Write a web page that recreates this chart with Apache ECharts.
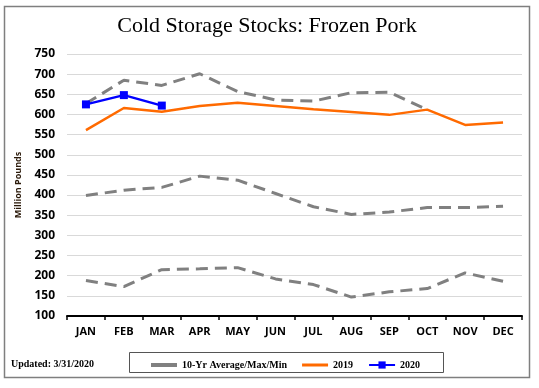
<!DOCTYPE html>
<html><head><meta charset="utf-8">
<script src="https://cdn.jsdelivr.net/npm/echarts@6/dist/echarts.min.js"></script>
<style>html,body{margin:0;padding:0;background:#fff}#c{width:539px;height:388px}</style>
</head><body><div id="c"></div>
<script>
const months = ['JAN','FEB','MAR','APR','MAY','JUN','JUL','AUG','SEP','OCT','NOV','DEC'];
const max10 = [627, 685, 672, 701, 657, 636, 633, 654, 655, 612, null, null];
const avg10 = [399, 412, 419, 447, 437, 404, 371, 352, 358, 369, 369, 372];
const min10 = [188, 173, 215, 217, 220, 192, 178, 147, 160, 168, 207, 186];
const y2019 = [561, 616, 607, 621, 629, 621, 613, 606, 599, 612, 574, 580];
const y2020 = [625, 648, 622];
const yMin = 100, yMax = 750, yStep = 50;

const avgName = '10-Yr Average/Max/Min';
const gray = '#808080';
const dashed = (data) => ({
  name: avgName, type: 'line', data: data, symbol: 'none', z: 2,
  lineStyle: { color: gray, width: 3, type: [12, 7] }, itemStyle: { color: gray }
});

const chart = echarts.init(document.getElementById('c'), null, { renderer: 'canvas' });
chart.setOption({
  animation: false,
  backgroundColor: '#fff',
  title: {
    text: 'Cold Storage Stocks: Frozen Pork',
    left: 262, top: 10, textAlign: 'center',
    textStyle: { fontFamily: 'Liberation Serif', fontSize: 22, fontWeight: 'normal', color: '#000' }
  },
  grid: { left: 67, right: 17, top: 54, bottom: 72 },
  xAxis: {
    type: 'category', data: months, boundaryGap: true,
    axisLine: { lineStyle: { color: '#000', width: 2 } },
    axisTick: { show: true, length: 4, lineStyle: { color: '#000', width: 1.5 } },
    axisLabel: { margin: 10, fontFamily: 'Open Sans', fontWeight: 'bold', fontSize: 11, color: '#000' }
  },
  yAxis: {
    type: 'value', min: yMin, max: yMax, interval: yStep,
    name: 'Million Pounds', nameLocation: 'middle', nameGap: 44,
    nameTextStyle: { fontFamily: 'Open Sans', fontWeight: 'bold', fontSize: 9, color: '#2b1a0a' },
    axisLine: { show: false }, axisTick: { show: false },
    splitLine: { lineStyle: { color: '#d9d9d9', width: 1 } },
    axisLabel: { margin: 12, fontFamily: 'Open Sans', fontWeight: 'bold', fontSize: 12, color: '#000' }
  },
  legend: {
    left: 146, top: 355, itemWidth: 26, itemHeight: 9, itemGap: 15,
    textStyle: { fontFamily: 'Liberation Serif', fontWeight: 'bold', fontSize: 10, color: '#000' },
    data: [
      { name: avgName, icon: 'path://M0,0 L26,0 L26,4 L0,4 Z', itemStyle: { color: gray } },
      { name: '2019', icon: 'path://M0,0 L26,0 L26,3 L0,3 Z', itemStyle: { color: '#ff6a00' } },
      { name: '2020' }
    ]
  },
  graphic: [
    { type: 'rect', shape: { x: 4.5, y: 6.5, width: 525, height: 371 }, style: { fill: 'none', stroke: '#7f7f7f', lineWidth: 1.5 }, silent: true, z: -1 },
    { type: 'rect', shape: { x: 129.5, y: 352.5, width: 314, height: 20 }, style: { fill: 'none', stroke: '#555', lineWidth: 1 }, silent: true },
    { type: 'text', left: 11, top: 359, style: { text: 'Updated: 3/31/2020', font: 'bold 10px "Liberation Serif"', fill: '#000' } }
  ],
  series: [
    dashed(max10),
    dashed(avg10),
    dashed(min10),
    { name: '2019', type: 'line', data: y2019, symbol: 'none', z: 3,
      lineStyle: { color: '#ff6a00', width: 2.5 }, itemStyle: { color: '#ff6a00' } },
    { name: '2020', type: 'line', data: y2020, symbol: 'rect', symbolSize: 8, z: 4,
      lineStyle: { color: '#0000ff', width: 2.5 }, itemStyle: { color: '#0000ff' } }
  ]
});
</script></body></html>
